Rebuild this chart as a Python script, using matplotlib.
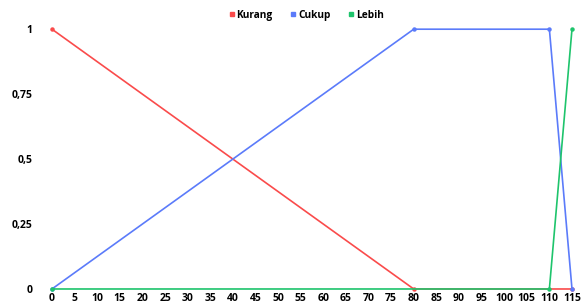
import matplotlib.pyplot as plt
from matplotlib.lines import Line2D

plt.rcParams['font.family'] = ['Open Sans', 'DejaVu Sans']

# data
x_kurang = [0, 80, 115]
y_kurang = [1, 0, 0]
x_cukup = [0, 80, 110, 115]
y_cukup = [0, 1, 1, 0]
x_lebih = [0, 110, 115]
y_lebih = [0, 0, 1]
labels = ['Kurang', 'Cukup', 'Lebih']
colors = ['#fa4b4b', '#5b7bfa', '#1ec46c']
xticks = list(range(0, 116, 5))
yticks = [0, 0.25, 0.5, 0.75, 1]
ytick_labels = ['0', '0,25', '0,5', '0,75', '1']

fig = plt.figure(figsize=(5.82, 3.06), dpi=100)
ax = fig.add_axes([0.0893, 0.0556, 0.8935, 0.849])

series = [(x_kurang, y_kurang), (x_cukup, y_cukup), (x_lebih, y_lebih)]
for (xs, ys), c, lab in zip(series, colors, labels):
    ax.plot(xs, ys, color=c, linewidth=1.2, marker='o', markersize=2.2,
            label=lab, clip_on=False)

ax.set_xlim(0, 115)
ax.set_ylim(0, 1)
ax.set_xticks(xticks)
ax.set_yticks(yticks)
ax.set_yticklabels(ytick_labels)
for s in ax.spines.values():
    s.set_visible(False)
ax.tick_params(length=0, labelsize=7.5)
ax.tick_params(axis='x', pad=3)
ax.tick_params(axis='y', pad=14)
for t in ax.get_xticklabels() + ax.get_yticklabels():
    t.set_fontweight('bold')

handles = [Line2D([], [], linestyle='none', marker='s', markersize=3, color=c)
           for c in colors]
fig.legend(handles, labels, loc='center', bbox_to_anchor=(0.525, 0.95), ncol=3,
           frameon=False, handletextpad=0.1, columnspacing=1.6,
           handlelength=0.8, prop={'weight': 'bold', 'size': 7.3})

fig.savefig('out.png', dpi=100)
